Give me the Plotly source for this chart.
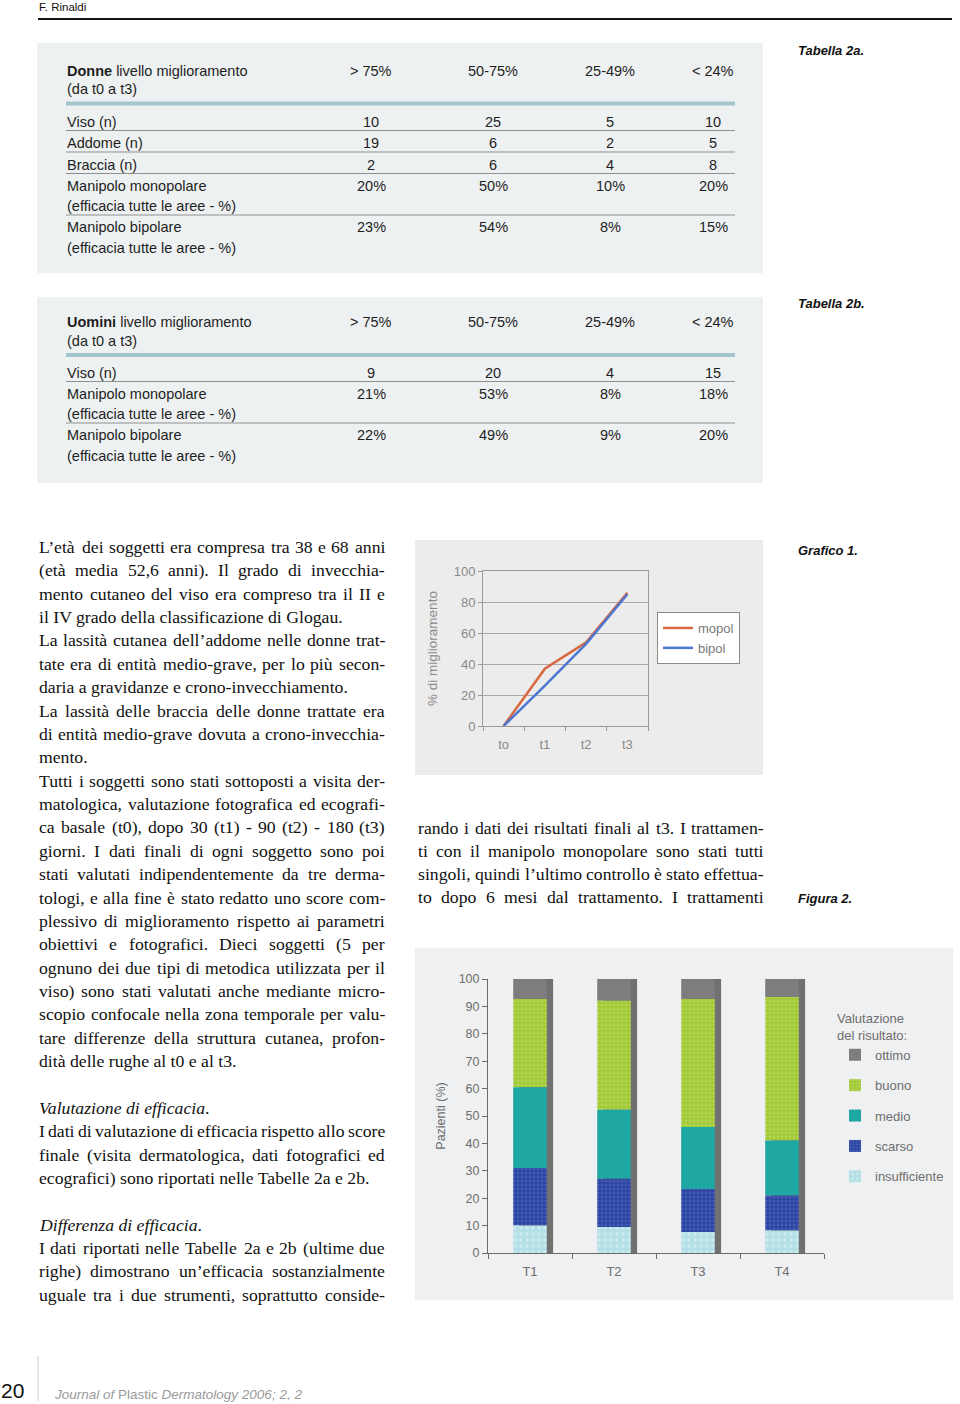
import unicodedata
import numpy as np
import plotly.graph_objects as go

W, H = 960, 1404


def px(x):
    return x / W


def py(y):
    return 1 - y / H


# ---------------------------------------------------------------- data
tab_cols = ["> 75%", "50-75%", "25-49%", "< 24%"]

donne_rows = ["Viso (n)", "Addome (n)", "Braccia (n)",
              "Manipolo monopolare\n(efficacia tutte le aree - %)",
              "Manipolo bipolare\n(efficacia tutte le aree - %)"]
donne_vals = [["10", "25", "5", "10"],
              ["19", "6", "2", "5"],
              ["2", "6", "4", "8"],
              ["20%", "50%", "10%", "20%"],
              ["23%", "54%", "8%", "15%"]]

uomini_rows = ["Viso (n)",
               "Manipolo monopolare\n(efficacia tutte le aree - %)",
               "Manipolo bipolare\n(efficacia tutte le aree - %)"]
uomini_vals = [["9", "20", "4", "15"],
               ["21%", "53%", "8%", "18%"],
               ["22%", "49%", "9%", "20%"]]

g1_time = ["to", "t1", "t2", "t3"]
g1_mopol = [0, 37, 54, 86]
g1_bipol = [0, 26, 53, 85]

f2_cats = ["T1", "T2", "T3", "T4"]
f2_insufficiente = [10.0, 9.5, 7.7, 8.2]
f2_scarso = [21.0, 17.6, 15.7, 12.8]
f2_medio = [29.5, 25.2, 22.6, 20.1]
f2_buono = [32.2, 39.8, 46.7, 52.3]
f2_ottimo = [7.3, 7.9, 7.3, 6.6]

left_lines = [
    ("L’età dei soggetti era compresa tra 38 e 68 anni", "j"),
    ("(età media 52,6 anni). Il grado di invecchia-", "j"),
    ("mento cutaneo del viso era compreso tra il II e", "j"),
    ("il IV grado della classificazione di Glogau.", "l"),
    ("La lassità cutanea dell’addome nelle donne trat-", "j"),
    ("tate era di entità medio-grave, per lo più secon-", "j"),
    ("daria a gravidanze e crono-invecchiamento.", "l"),
    ("La lassità delle braccia delle donne trattate era", "j"),
    ("di entità medio-grave dovuta a crono-invecchia-", "j"),
    ("mento.", "l"),
    ("Tutti i soggetti sono stati sottoposti a visita der-", "j"),
    ("matologica, valutazione fotografica ed ecografi-", "j"),
    ("ca basale (t0), dopo 30 (t1) - 90 (t2) - 180 (t3)", "j"),
    ("giorni. I dati finali di ogni soggetto sono poi", "j"),
    ("stati valutati indipendentemente da tre derma-", "j"),
    ("tologi, e alla fine è stato redatto uno score com-", "j"),
    ("plessivo di miglioramento rispetto ai parametri", "j"),
    ("obiettivi e fotografici. Dieci soggetti (5 per", "j"),
    ("ognuno dei due tipi di metodica utilizzata per il", "j"),
    ("viso) sono stati valutati anche mediante micro-", "j"),
    ("scopio confocale nella zona temporale per valu-", "j"),
    ("tare differenze della struttura cutanea, profon-", "j"),
    ("dità delle rughe al t0 e al t3.", "l"),
    ("", ""),
    ("<i>Valutazione di efficacia</i>.", "l"),
    ("I dati di valutazione di efficacia rispetto allo score", "j"),
    ("finale (visita dermatologica, dati fotografici ed", "j"),
    ("ecografici) sono riportati nelle Tabelle 2a e 2b.", "l"),
    ("", ""),
    ("<i>Differenza di efficacia</i>.", "l"),
    ("I dati riportati nelle Tabelle 2a e 2b (ultime due", "j"),
    ("righe) dimostrano un’efficacia sostanzialmente", "j"),
    ("uguale tra i due strumenti, soprattutto conside-", "j"),
]

right_lines = [
    ("rando i dati dei risultati finali al t3. I trattamen-", "j"),
    ("ti con il manipolo monopolare sono stati tutti", "j"),
    ("singoli, quindi l’ultimo controllo è stato effettua-", "j"),
    ("to dopo 6 mesi dal trattamento. I trattamenti", "j"),
]

# ---------------------------------------------------------------- helpers
SANS = "Liberation Sans, Arial, sans-serif"
SERIF = "Liberation Serif, Times New Roman, serif"

TIMES_W = {' ': 250, '!': 333, '(': 333, ')': 333, ',': 250, '-': 333, '.': 250,
           ':': 278, ';': 278, '%': 833, '’': 333, "'": 333,
           'A': 722, 'B': 667, 'C': 667, 'D': 722, 'E': 611, 'F': 556, 'G': 722,
           'H': 722, 'I': 333, 'J': 389, 'K': 722, 'L': 611, 'M': 889, 'N': 722,
           'O': 722, 'P': 556, 'Q': 722, 'R': 667, 'S': 556, 'T': 611, 'U': 722,
           'V': 722, 'W': 944, 'X': 722, 'Y': 722, 'Z': 611,
           'a': 444, 'b': 500, 'c': 444, 'd': 500, 'e': 444, 'f': 333, 'g': 500,
           'h': 500, 'i': 278, 'j': 278, 'k': 500, 'l': 278, 'm': 778, 'n': 500,
           'o': 500, 'p': 500, 'q': 500, 'r': 333, 's': 389, 't': 278, 'u': 500,
           'v': 500, 'w': 722, 'x': 500, 'y': 500, 'z': 444}
for d in "0123456789":
    TIMES_W[d] = 500


def tw(s, size):
    w = 0
    for ch in s:
        base = unicodedata.normalize("NFD", ch)[0]
        w += TIMES_W.get(base, 500)
    return w * size / 1000.0


annots = []
shapes = []


def text(x, y, s, size, color="#1e1e1e", family=SANS, xanchor="left", textangle=0):
    annots.append(dict(x=px(x), y=py(y), xref="paper", yref="paper", text=s,
                       showarrow=False, xanchor=xanchor, yanchor="middle",
                       font=dict(size=size, color=color, family=family),
                       borderpad=0, textangle=textangle))


def hline(x0, x1, y, color, width):
    shapes.append(dict(type="line", xref="paper", yref="paper", x0=px(x0), x1=px(x1),
                       y0=py(y), y1=py(y), line=dict(color=color, width=width)))


def vline(x, y0, y1, color, width):
    shapes.append(dict(type="line", xref="paper", yref="paper", x0=px(x), x1=px(x),
                       y0=py(y0), y1=py(y1), line=dict(color=color, width=width)))


def rect(x0, y0, x1, y1, fill):
    shapes.append(dict(type="rect", xref="paper", yref="paper", x0=px(x0), x1=px(x1),
                       y0=py(y1), y1=py(y0), fillcolor=fill, line=dict(width=0),
                       layer="below"))


# ---------------------------------------------------------------- header / footer
text(38, 6.5, "F. Rinaldi", 11.5, color="#111", family=SANS)
hline(38, 952, 19, "#111", 2)

text(0, 1390, "20", 21, color="#111", family=SANS)
vline(38, 1356, 1401, "#cfcfcf", 1)
text(53, 1394, "<i>Journal of</i> Plastic <i>Dermatology 2006; 2, 2</i>", 13.5,
     color="#9a9a9a", family=SANS)

# ---------------------------------------------------------------- tables
col_x = [371, 493, 610, 713]
TFS = 14.5


def draw_table(who, rows, vals, y_title, y_first):
    text(66, y_title, f"<b>{who}</b> livello miglioramento", TFS)
    text(66, y_title + 18.5, "(da t0 a t3)", TFS)
    for c, lab in enumerate(tab_cols):
        text(col_x[c], y_title, lab, TFS, xanchor="center")
    hline(66, 735, y_title + 33, "#a3c6cd", 4)
    y = y_first
    for r, (lab, rv) in enumerate(zip(rows, vals)):
        parts = lab.split("\n")
        for k, p in enumerate(parts):
            text(66, y + 20 * k, p, TFS)
        for c, v in enumerate(rv):
            text(col_x[c], y, v, TFS, xanchor="center")
        last = y + 20 * (len(parts) - 1)
        if r < len(rows) - 1:
            hline(66, 735, last + 9, "#8f8f8f", 1)
        y = last + 21.5


rect(37, 43, 763, 273, "#eef1f2")
draw_table("Donne", donne_rows, donne_vals, 70.5, 121.5)
rect(37, 297, 763, 483, "#eef1f2")
draw_table("Uomini", uomini_rows, uomini_vals, 322, 372.5)

text(797, 50, "<b><i>Tabella 2a.</i></b>", 13, color="#111")
text(797, 303, "<b><i>Tabella 2b.</i></b>", 13, color="#111")
text(797, 550, "<b><i>Grafico 1.</i></b>", 13, color="#111")
text(797, 898, "<b><i>Figura 2.</i></b>", 13, color="#111")

# ---------------------------------------------------------------- body text
BFS = 17.7


def draw_column(lines, x0, width, y0, step):
    for i, (s, mode) in enumerate(lines):
        if not s:
            continue
        y = y0 + i * step
        if mode == "j":
            words = s.split(" ")
            ws = [tw(w, BFS) for w in words]
            gap = (width - sum(ws)) / max(len(words) - 1, 1)
            x = x0
            for w, wd in zip(words, ws):
                text(x, y, w, BFS, color="#111", family=SERIF)
                x += wd + gap
        else:
            text(x0, y, s, BFS, color="#111", family=SERIF)


draw_column(left_lines, 38, 346, 547, 23.37)
draw_column(right_lines, 417, 346, 828, 23.0)

# ---------------------------------------------------------------- chart backgrounds
rect(415, 540, 763, 775, "#ececec")
rect(415, 948, 953, 1300, "#eff0f1")

# ---------------------------------------------------------------- Grafico 1
fig = go.Figure()
fig.add_trace(go.Scatter(x=g1_time, y=g1_mopol, mode="lines", name="mopol",
                         line=dict(color="#d8683f", width=2.5),
                         xaxis="x", yaxis="y", legend="legend"))
fig.add_trace(go.Scatter(x=g1_time, y=g1_bipol, mode="lines", name="bipol",
                         line=dict(color="#4d78d2", width=2.5),
                         xaxis="x", yaxis="y", legend="legend"))

# ---------------------------------------------------------------- Figura 2
layers = [("insufficiente", f2_insufficiente, "#b5dfe6", dict(shape=".", fgcolor="#e4f4f6", size=6, solidity=0.25)),
          ("scarso", f2_scarso, "#2e46a2", dict(shape=".", fgcolor="#5a74c8", size=4, solidity=0.35)),
          ("medio", f2_medio, "#1fa8a3", None),
          ("buono", f2_buono, "#a3ca3a", dict(shape=".", fgcolor="#c6e070", size=4, solidity=0.3)),
          ("ottimo", f2_ottimo, "#7d7d7d", None)]
stack = np.vstack([np.array(l[1], dtype=float) for l in layers])
bases = np.vstack([np.zeros(stack.shape[1]), np.cumsum(stack, axis=0)[:-1]])
totals = stack.sum(axis=0)

fig.add_trace(go.Bar(x=f2_cats, y=totals, base=0, width=0.4, offset=-0.2 + 0.075,
                     marker=dict(color="rgba(70,70,70,0.75)", line=dict(width=0)),
                     showlegend=False, hoverinfo="skip", xaxis="x2", yaxis="y2"))
for idx in reversed(range(len(layers))):
    name, vals, col, pat = layers[idx]
    marker = dict(color=col, line=dict(width=0))
    if pat:
        marker["pattern"] = pat
    fig.add_trace(go.Bar(x=f2_cats, y=vals, base=bases[idx], width=0.4, offset=-0.2,
                         name=name, marker=marker, xaxis="x2", yaxis="y2",
                         legend="legend2", legendgroup=name))

# ---------------------------------------------------------------- layout
g1_col = "#8a8a8a"
f2_col = "#6e6e6e"
fig.update_layout(
    width=W, height=H,
    margin=dict(l=0, r=0, t=0, b=0, pad=0, autoexpand=False),
    paper_bgcolor="white", plot_bgcolor="rgba(0,0,0,0)",
    barmode="overlay", showlegend=True,
    font=dict(family=SANS, color="#222"),
    xaxis=dict(domain=[px(483), px(648)], anchor="y", type="category",
               range=[-0.5, 3.5], showline=True, linecolor="#9a9a9a", mirror=True,
               ticks="outside", tickson="boundaries", ticklen=4, tickcolor="#9a9a9a",
               tickfont=dict(size=13, color=g1_col), showgrid=False, zeroline=False,
               ticklabelstandoff=6, automargin=False),
    yaxis=dict(domain=[py(726), py(571)], anchor="x", range=[0, 100], dtick=20,
               showline=True, linecolor="#9a9a9a", mirror=True, ticks="outside",
               ticklen=4, tickcolor="#9a9a9a", tickfont=dict(size=13, color=g1_col),
               showgrid=True, gridcolor="#a8a8a8", gridwidth=1, zeroline=False,
               automargin=False,
               title=dict(text="% di miglioramento", font=dict(size=13.5, color=g1_col),
                          standoff=12)),
    xaxis2=dict(domain=[px(488), px(824)], anchor="y2", type="category",
                range=[-0.5, 3.5], showline=True, linecolor="#6a6a6a",
                ticks="outside", tickson="boundaries", ticklen=5, tickcolor="#6a6a6a",
                tickfont=dict(size=13, color=f2_col), showgrid=False, zeroline=False,
                ticklabelstandoff=6, automargin=False),
    yaxis2=dict(domain=[py(1253), py(979)], anchor="x2", range=[0, 100], dtick=10,
                showline=True, linecolor="#6a6a6a", ticks="outside", ticklen=5,
                tickcolor="#6a6a6a", tickfont=dict(size=12.5, color=f2_col),
                showgrid=False, zeroline=False, automargin=False,
                title=dict(text="Pazienti (%)", font=dict(size=12.5, color=f2_col),
                           standoff=10)),
    legend=dict(x=px(657), y=py(612), xanchor="left", yanchor="top",
                bgcolor="white", bordercolor="#8a8a8a", borderwidth=1,
                font=dict(size=13, color="#7a7a7a"), tracegroupgap=0),
    legend2=dict(x=px(835), y=py(1006), xanchor="left", yanchor="top",
                 bgcolor="rgba(0,0,0,0)", borderwidth=0,
                 title=dict(text="Valutazione<br>del risultato:",
                            font=dict(size=13, color=f2_col)),
                 font=dict(size=13, color=f2_col), tracegroupgap=10.5,
                 traceorder="grouped"),
    shapes=shapes,
    annotations=annots,
)

fig.write_html("out.html", config={"displayModeBar": False},
               post_script="document.body.style.margin='0';document.body.style.padding='0';")
